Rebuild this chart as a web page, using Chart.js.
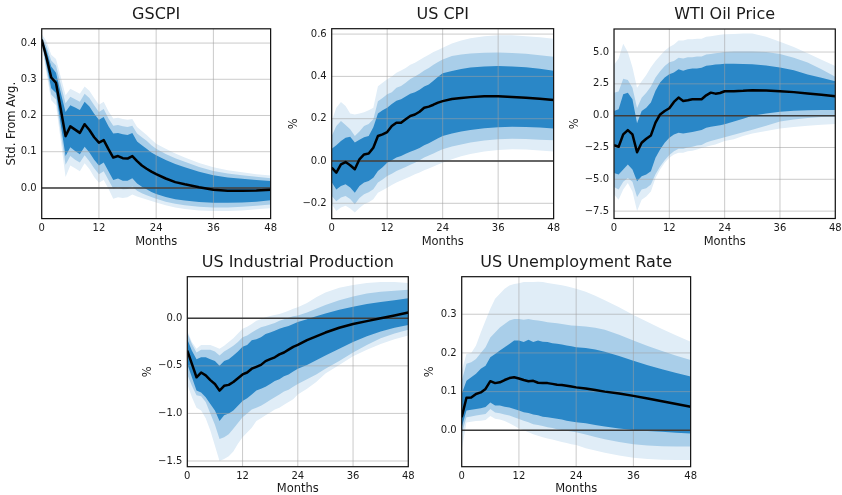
<!DOCTYPE html>
<html><head><meta charset="utf-8">
<script src="https://cdn.jsdelivr.net/npm/chart.js@4.4.1/dist/chart.umd.min.js"></script>
<style>
html,body{margin:0;padding:0;background:#fff;}
#wrap{position:relative;width:842px;height:495px;overflow:hidden;background:#fff;}
#wrap canvas{position:absolute;}
</style></head>
<body><div id="wrap">
<canvas id="c1"></canvas><canvas id="c2"></canvas><canvas id="c3"></canvas><canvas id="c4"></canvas><canvas id="c5"></canvas>
</div>
<script>
// ---------- DATA ----------
const months = [0,1,2,3,4,5,6,7,8,9,10,11,12,13,14,15,16,17,18,19,20,21,22,23,24,26,28,30,33,36,39,42,45,48];
const xTickValues = [0,12,24,36,48];

// GSCPI (Std. From Avg.)
const gscpiMedian = [0.410,0.360,0.305,0.290,0.217,0.143,0.170,0.161,0.152,0.176,0.160,0.140,0.125,0.132,0.107,0.084,0.088,0.082,0.081,0.088,0.074,0.062,0.053,0.045,0.038,0.026,0.016,0.010,0.002,-0.005,-0.008,-0.008,-0.007,-0.005];
const gscpiInnerHi = [0.412,0.380,0.335,0.318,0.262,0.210,0.228,0.222,0.215,0.238,0.225,0.205,0.188,0.196,0.170,0.150,0.152,0.148,0.146,0.152,0.128,0.118,0.108,0.098,0.090,0.077,0.066,0.057,0.045,0.035,0.029,0.025,0.022,0.019];
const gscpiInnerLo = [0.408,0.340,0.275,0.262,0.175,0.088,0.112,0.102,0.093,0.114,0.098,0.078,0.062,0.070,0.046,0.022,0.026,0.020,0.020,0.027,0.012,0.003,-0.004,-0.011,-0.017,-0.025,-0.031,-0.035,-0.039,-0.041,-0.041,-0.040,-0.038,-0.034];
const gscpiMidHi = [0.418,0.392,0.352,0.338,0.285,0.234,0.252,0.245,0.238,0.260,0.248,0.228,0.210,0.218,0.192,0.172,0.174,0.170,0.168,0.172,0.150,0.140,0.130,0.118,0.108,0.094,0.082,0.072,0.058,0.047,0.040,0.035,0.031,0.027];
const gscpiMidLo = [0.402,0.328,0.258,0.244,0.152,0.064,0.088,0.078,0.070,0.090,0.074,0.054,0.038,0.046,0.022,-0.002,0.002,-0.004,-0.003,0.004,-0.008,-0.015,-0.020,-0.025,-0.030,-0.038,-0.044,-0.048,-0.052,-0.054,-0.054,-0.052,-0.049,-0.046];
const gscpiOuterHi = [0.425,0.405,0.368,0.356,0.306,0.256,0.274,0.267,0.260,0.280,0.268,0.248,0.230,0.238,0.212,0.192,0.194,0.190,0.188,0.190,0.168,0.157,0.146,0.134,0.122,0.108,0.095,0.084,0.069,0.057,0.049,0.043,0.038,0.034];
const gscpiOuterLo = [0.396,0.316,0.242,0.228,0.130,0.030,0.062,0.054,0.046,0.068,0.052,0.030,0.014,0.022,-0.002,-0.030,-0.026,-0.028,-0.026,-0.018,-0.024,-0.028,-0.032,-0.036,-0.040,-0.048,-0.054,-0.058,-0.062,-0.064,-0.064,-0.062,-0.059,-0.056];
const gscpiYTicks = [0.0,0.1,0.2,0.3,0.4];

// US CPI (%)
const cpiMedian = [-0.031,-0.055,-0.016,-0.005,-0.020,-0.039,0.008,0.031,0.035,0.063,0.118,0.126,0.137,0.165,0.181,0.181,0.197,0.213,0.220,0.233,0.252,0.257,0.266,0.276,0.283,0.293,0.298,0.302,0.306,0.306,0.303,0.299,0.294,0.288];
const cpiInnerHi = [0.058,0.075,0.095,0.110,0.115,0.087,0.100,0.112,0.118,0.160,0.225,0.240,0.252,0.270,0.285,0.292,0.305,0.318,0.325,0.337,0.352,0.362,0.380,0.398,0.415,0.425,0.435,0.442,0.447,0.449,0.447,0.443,0.436,0.427];
const cpiInnerLo = [-0.100,-0.135,-0.118,-0.110,-0.125,-0.150,-0.118,-0.102,-0.095,-0.079,-0.047,-0.030,-0.008,0.004,0.016,0.024,0.034,0.044,0.052,0.062,0.074,0.084,0.096,0.107,0.118,0.130,0.140,0.147,0.155,0.160,0.162,0.161,0.158,0.154];
const cpiMidHi = [0.118,0.165,0.189,0.170,0.150,0.118,0.140,0.165,0.175,0.197,0.283,0.298,0.315,0.325,0.346,0.355,0.370,0.388,0.400,0.412,0.428,0.440,0.455,0.468,0.480,0.496,0.503,0.508,0.512,0.513,0.511,0.507,0.500,0.493];
const cpiMidLo = [-0.165,-0.190,-0.172,-0.165,-0.180,-0.205,-0.175,-0.157,-0.148,-0.134,-0.102,-0.088,-0.071,-0.060,-0.047,-0.038,-0.028,-0.018,-0.008,0.004,0.016,0.026,0.036,0.046,0.055,0.068,0.078,0.087,0.097,0.103,0.105,0.104,0.101,0.098];
const cpiOuterHi = [0.189,0.252,0.279,0.260,0.225,0.220,0.225,0.231,0.240,0.252,0.354,0.370,0.386,0.400,0.417,0.428,0.440,0.455,0.465,0.478,0.490,0.502,0.515,0.525,0.535,0.555,0.570,0.580,0.590,0.595,0.594,0.590,0.585,0.578];
const cpiOuterLo = [-0.205,-0.236,-0.220,-0.212,-0.225,-0.244,-0.222,-0.205,-0.195,-0.181,-0.150,-0.138,-0.126,-0.114,-0.102,-0.092,-0.083,-0.073,-0.063,-0.054,-0.044,-0.035,-0.026,-0.017,-0.008,0.008,0.022,0.033,0.045,0.052,0.055,0.054,0.050,0.045];
const cpiYTicks = [-0.2,0.0,0.2,0.4,0.6];

// WTI Oil Price (%)
const wtiMedian = [-2.31,-2.44,-1.47,-1.13,-1.47,-2.87,-2.13,-1.81,-1.55,-0.55,0.10,0.37,0.58,1.08,1.42,1.16,1.21,1.29,1.29,1.29,1.60,1.81,1.73,1.78,1.92,1.92,1.95,2.00,1.98,1.92,1.85,1.75,1.65,1.52];
const wtiInnerHi = [0.37,0.50,1.68,1.81,1.29,-0.60,0.37,0.63,1.03,1.95,2.60,3.00,3.26,3.39,3.65,3.52,3.65,3.70,3.70,3.76,3.92,3.97,4.02,4.04,4.07,4.07,4.06,4.04,3.95,3.78,3.56,3.24,2.98,2.71];
const wtiInnerLo = [-4.50,-4.63,-4.23,-3.84,-4.23,-5.15,-4.76,-4.63,-4.36,-3.31,-2.66,-2.13,-1.74,-1.47,-1.34,-1.40,-1.34,-1.29,-1.21,-1.13,-0.95,-0.87,-0.81,-0.75,-0.68,-0.45,-0.25,0.00,0.18,0.30,0.38,0.42,0.45,0.45];
const wtiMidHi = [1.80,1.90,2.90,2.80,2.20,0.60,1.40,1.80,2.30,3.00,3.50,3.90,4.20,4.30,4.55,4.50,4.60,4.60,4.65,4.65,4.80,4.85,4.90,4.95,5.00,5.05,5.05,5.05,5.00,4.84,4.55,4.18,3.65,3.06];
const wtiMidLo = [-5.60,-5.80,-5.20,-4.90,-5.20,-6.40,-5.80,-5.70,-5.40,-4.60,-4.00,-3.50,-3.10,-2.80,-2.60,-2.60,-2.50,-2.45,-2.35,-2.30,-2.10,-2.00,-1.90,-1.80,-1.70,-1.50,-1.30,-1.10,-0.80,-0.45,-0.30,-0.18,-0.10,-0.08];
const wtiOuterHi = [4.00,4.50,5.65,5.00,3.80,2.20,2.70,3.20,3.80,4.30,4.70,5.10,5.40,5.60,5.90,5.90,6.00,6.00,6.05,6.05,6.20,6.25,6.30,6.35,6.40,6.42,6.45,6.45,6.20,5.80,5.40,4.90,4.40,3.90];
const wtiOuterLo = [-6.20,-6.60,-5.80,-5.30,-5.95,-7.50,-6.60,-6.35,-5.95,-4.90,-4.23,-3.70,-3.31,-3.05,-2.92,-2.92,-2.80,-2.75,-2.65,-2.55,-2.44,-2.35,-2.26,-2.13,-2.00,-1.85,-1.60,-1.40,-1.20,-1.00,-0.90,-0.80,-0.72,-0.66];
const wtiYTicks = [-7.5,-5.0,-2.5,0.0,2.5,5.0];

// US Industrial Production (%)
const ipMedian = [-0.34,-0.48,-0.62,-0.57,-0.60,-0.65,-0.69,-0.76,-0.71,-0.70,-0.67,-0.63,-0.59,-0.57,-0.53,-0.51,-0.49,-0.45,-0.43,-0.41,-0.38,-0.36,-0.33,-0.30,-0.28,-0.23,-0.19,-0.15,-0.10,-0.06,-0.03,0.00,0.03,0.06];
const ipInnerHi = [-0.22,-0.34,-0.43,-0.41,-0.41,-0.43,-0.45,-0.50,-0.45,-0.43,-0.39,-0.35,-0.30,-0.28,-0.23,-0.22,-0.20,-0.165,-0.15,-0.13,-0.11,-0.095,-0.08,-0.06,-0.04,-0.01,0.02,0.05,0.09,0.12,0.15,0.17,0.19,0.21];
const ipInnerLo = [-0.48,-0.62,-0.76,-0.78,-0.83,-0.90,-0.97,-1.08,-1.02,-1.00,-0.97,-0.92,-0.87,-0.84,-0.80,-0.76,-0.74,-0.72,-0.69,-0.66,-0.64,-0.61,-0.59,-0.56,-0.53,-0.49,-0.44,-0.39,-0.32,-0.25,-0.19,-0.14,-0.10,-0.07];
const ipMidHi = [-0.15,-0.27,-0.36,-0.33,-0.33,-0.33,-0.35,-0.39,-0.35,-0.32,-0.29,-0.25,-0.20,-0.18,-0.15,-0.12,-0.095,-0.08,-0.065,-0.05,-0.025,-0.01,0.005,0.02,0.03,0.06,0.10,0.14,0.19,0.23,0.26,0.28,0.29,0.30];
const ipMidLo = [-0.59,-0.71,-0.81,-0.82,-0.88,-1.00,-1.12,-1.27,-1.25,-1.22,-1.16,-1.10,-1.04,-1.00,-0.96,-0.94,-0.92,-0.89,-0.86,-0.83,-0.80,-0.77,-0.75,-0.72,-0.69,-0.64,-0.59,-0.53,-0.45,-0.36,-0.28,-0.21,-0.16,-0.12];
const ipOuterHi = [-0.13,-0.25,-0.32,-0.28,-0.28,-0.28,-0.30,-0.32,-0.29,-0.25,-0.21,-0.16,-0.11,-0.09,-0.06,-0.025,-0.01,0.01,0.025,0.035,0.045,0.06,0.08,0.10,0.115,0.16,0.22,0.27,0.32,0.35,0.37,0.38,0.38,0.37];
const ipOuterLo = [-0.69,-0.83,-0.94,-0.97,-1.05,-1.18,-1.34,-1.50,-1.48,-1.45,-1.40,-1.32,-1.25,-1.20,-1.15,-1.08,-1.05,-1.02,-0.99,-0.96,-0.94,-0.91,-0.88,-0.85,-0.80,-0.74,-0.67,-0.58,-0.49,-0.40,-0.33,-0.27,-0.22,-0.18];
const ipYTicks = [-1.5,-1.0,-0.5,0.0];

// US Unemployment Rate (%)
const urMedian = [0.034,0.084,0.085,0.094,0.098,0.107,0.127,0.122,0.124,0.130,0.135,0.137,0.134,0.130,0.127,0.128,0.123,0.122,0.122,0.120,0.118,0.117,0.115,0.113,0.111,0.108,0.104,0.100,0.095,0.089,0.082,0.075,0.068,0.061];
const urInnerHi = [0.094,0.128,0.137,0.146,0.159,0.167,0.189,0.197,0.206,0.215,0.223,0.232,0.232,0.228,0.234,0.228,0.232,0.229,0.228,0.225,0.224,0.222,0.219,0.217,0.215,0.213,0.209,0.203,0.192,0.180,0.168,0.158,0.148,0.139];
const urInnerLo = [0.008,0.051,0.053,0.055,0.057,0.060,0.072,0.064,0.064,0.061,0.059,0.055,0.051,0.047,0.045,0.041,0.039,0.035,0.034,0.032,0.030,0.028,0.025,0.023,0.021,0.018,0.014,0.010,0.005,0.001,-0.002,-0.004,-0.006,-0.008];
const urMidHi = [0.128,0.172,0.176,0.184,0.200,0.215,0.240,0.253,0.266,0.275,0.284,0.288,0.288,0.286,0.288,0.285,0.284,0.282,0.279,0.278,0.277,0.275,0.273,0.271,0.270,0.268,0.265,0.260,0.247,0.232,0.218,0.205,0.193,0.182];
const urMidLo = [-0.010,0.034,0.036,0.038,0.040,0.042,0.055,0.046,0.044,0.041,0.038,0.034,0.029,0.025,0.021,0.016,0.014,0.011,0.008,0.006,0.003,0.001,-0.001,-0.003,-0.005,-0.011,-0.017,-0.023,-0.030,-0.036,-0.039,-0.041,-0.042,-0.042];
const urOuterHi = [0.154,0.197,0.200,0.219,0.253,0.284,0.314,0.340,0.353,0.366,0.374,0.378,0.380,0.383,0.383,0.383,0.384,0.383,0.381,0.379,0.377,0.375,0.372,0.369,0.366,0.358,0.348,0.336,0.318,0.298,0.280,0.262,0.245,0.229];
const urOuterLo = [-0.050,0.020,0.022,0.024,0.025,0.027,0.037,0.030,0.028,0.024,0.018,0.012,0.005,0.000,-0.005,-0.010,-0.014,-0.018,-0.021,-0.024,-0.027,-0.030,-0.033,-0.036,-0.038,-0.046,-0.052,-0.058,-0.065,-0.071,-0.074,-0.076,-0.077,-0.077];
const urYTicks = [0.0,0.1,0.2,0.3];

// ---------- STYLE ----------
const FONT = "'DejaVu Sans', 'Liberation Sans', sans-serif";
const COL_INNER = '#2a87c7', COL_MID = '#a9cee9', COL_OUTER = '#e0edf7';
const TEXT = '#1a1a1a';

function pts(ys){ return months.map((m,i)=>({x:m, y:ys[i]})); }
function fmt(v){ const s = Math.abs(v).toFixed(1); return (v < -1e-9 ? '\u2212' : '') + s; }

const decor = {
  id: 'decor',
  beforeDatasetDraw(chart, args){
    if (args.index !== 0) return;
    const {ctx, chartArea:a, scales:{x, y}} = chart;
    ctx.save();
    ctx.beginPath(); ctx.rect(a.left, a.top, a.width, a.height); ctx.clip();
    ctx.strokeStyle = 'rgba(160,160,160,0.55)'; ctx.lineWidth = 1;
    x.ticks.forEach(t => { const p = x.getPixelForValue(t.value); ctx.beginPath(); ctx.moveTo(p, a.top); ctx.lineTo(p, a.bottom); ctx.stroke(); });
    y.ticks.forEach(t => { const p = y.getPixelForValue(t.value); ctx.beginPath(); ctx.moveTo(a.left, p); ctx.lineTo(a.right, p); ctx.stroke(); });
    const y0 = y.getPixelForValue(0);
    ctx.strokeStyle = '#3c3c3c'; ctx.lineWidth = 1.5;
    ctx.beginPath(); ctx.moveTo(a.left, y0); ctx.lineTo(a.right, y0); ctx.stroke();
    ctx.restore();
  },
  afterDraw(chart){
    const {ctx, chartArea:a} = chart;
    ctx.save(); ctx.strokeStyle = '#111'; ctx.lineWidth = 1.2;
    ctx.strokeRect(a.left, a.top, a.width, a.height); ctx.restore();
  }
};

function makeChart(id, p){
  const canvas = document.getElementById(id);
  const cw = Math.ceil(p.R - p.cx + 10);
  const ch = Math.ceil(p.B - p.cy + 30);
  canvas.width = cw; canvas.height = ch;
  canvas.style.left = p.cx + 'px'; canvas.style.top = p.cy + 'px';
  canvas.style.width = cw + 'px'; canvas.style.height = ch + 'px';
  const yW = p.L - p.cx;
  const tSize = 16, tLH = tSize * 1.2;
  const tPadTop = p.titleY - p.cy - tLH / 2;
  const tPadBottom = p.T - p.cy - tPadTop - tLH;
  const xH = ch - (p.B - p.cy);
  const lSize = 11.5, lLH = lSize * 1.2;
  const xTitlePadBottom = Math.max(0, xH - lLH / 2 - (p.monthsY - p.B));
  const yTitlePadTop = Math.max(0, p.yLabelX - p.cx - lLH / 2);
  const band = (data, color, fill, order) => ({data: pts(data), borderWidth: 0, pointRadius: 0, backgroundColor: color, fill: fill, order: order, tension: 0});
  return new Chart(canvas, {
    type: 'line',
    data: { datasets: [
      {data: pts(p.med), borderColor: '#000', borderWidth: 2.5, pointRadius: 0, fill: false, order: 0, tension: 0, borderJoinStyle: 'round'},
      band(p.inHi, COL_INNER, '+1', 1), band(p.inLo, COL_INNER, false, 1),
      band(p.midHi, COL_MID, '+1', 2), band(p.midLo, COL_MID, false, 2),
      band(p.outHi, COL_OUTER, '+1', 3), band(p.outLo, COL_OUTER, false, 3)
    ]},
    options: {
      responsive: false, animation: false, devicePixelRatio: 1,
      layout: { padding: { left: 0, top: 0, bottom: 0, right: p.cx + cw - p.R } },
      plugins: {
        legend: {display: false}, tooltip: {enabled: false},
        title: {display: true, fullSize: false, text: p.title, color: TEXT, font: {family: FONT, size: tSize, weight: 'normal'}, padding: {top: tPadTop, bottom: tPadBottom}}
      },
      scales: {
        x: {
          type: 'linear', min: 0, max: 48,
          afterBuildTicks: s => { s.ticks = xTickValues.map(v => ({value: v})); },
          afterFit: s => { s.height = xH; },
          grid: {display: false, drawTicks: false}, border: {display: false},
          ticks: {color: TEXT, font: {family: FONT, size: 10}, padding: 4, maxRotation: 0, autoSkip: false, callback: v => String(v)},
          title: {display: true, text: 'Months', color: TEXT, font: {family: FONT, size: lSize}, padding: {top: 0, bottom: xTitlePadBottom}}
        },
        y: {
          type: 'linear', min: p.yMin, max: p.yMax,
          afterBuildTicks: s => { s.ticks = p.yTicks.map(v => ({value: v})); },
          afterFit: s => { s.width = yW; },
          grid: {display: false, drawTicks: false}, border: {display: false},
          ticks: {color: TEXT, font: {family: FONT, size: 10}, padding: 5, autoSkip: false, callback: v => fmt(v)},
          title: {display: true, text: p.yLabel, color: TEXT, font: {family: FONT, size: lSize}, padding: {top: yTitlePadTop, bottom: 0}}
        }
      }
    },
    plugins: [decor]
  });
}

makeChart('c1', {title: 'GSCPI', yLabel: 'Std. From Avg.', yTicks: gscpiYTicks, yMin: -0.0847, yMax: 0.4394,
  med: gscpiMedian, inHi: gscpiInnerHi, inLo: gscpiInnerLo, midHi: gscpiMidHi, midLo: gscpiMidLo, outHi: gscpiOuterHi, outLo: gscpiOuterLo,
  L: 41.7, T: 28.8, R: 270.7, B: 218.6, cx: 5, cy: 0, titleY: 14.6, monthsY: 242, yLabelX: 12.3});
makeChart('c2', {title: 'US CPI', yLabel: '%', yTicks: cpiYTicks, yMin: -0.2728, yMax: 0.6255,
  med: cpiMedian, inHi: cpiInnerHi, inLo: cpiInnerLo, midHi: cpiMidHi, midLo: cpiMidLo, outHi: cpiOuterHi, outLo: cpiOuterLo,
  L: 331.7, T: 28.7, R: 554, B: 218.7, cx: 287, cy: 0, titleY: 14.6, monthsY: 242, yLabelX: 294});
makeChart('c3', {title: 'WTI Oil Price', yLabel: '%', yTicks: wtiYTicks, yMin: -8.08, yMax: 6.81,
  med: wtiMedian, inHi: wtiInnerHi, inLo: wtiInnerLo, midHi: wtiMidHi, midLo: wtiMidLo, outHi: wtiOuterHi, outLo: wtiOuterLo,
  L: 614, T: 29, R: 835.3, B: 218.5, cx: 568, cy: 0, titleY: 14.6, monthsY: 242, yLabelX: 575.5});
makeChart('c4', {title: 'US Industrial Production', yLabel: '%', yTicks: ipYTicks, yMin: -1.56, yMax: 0.437,
  med: ipMedian, inHi: ipInnerHi, inLo: ipInnerLo, midHi: ipMidHi, midLo: ipMidLo, outHi: ipOuterHi, outLo: ipOuterLo,
  L: 187.3, T: 276.7, R: 408.3, B: 466.7, cx: 141, cy: 245, titleY: 262.8, monthsY: 489.5, yLabelX: 148.3});
makeChart('c5', {title: 'US Unemployment Rate', yLabel: '%', yTicks: urYTicks, yMin: -0.094, yMax: 0.397,
  med: urMedian, inHi: urInnerHi, inLo: urInnerLo, midHi: urMidHi, midLo: urMidLo, outHi: urOuterHi, outLo: urOuterLo,
  L: 461.7, T: 276.7, R: 690.7, B: 466.7, cx: 423, cy: 245, titleY: 262.8, monthsY: 489.5, yLabelX: 430.5});
</script>
</body></html>
